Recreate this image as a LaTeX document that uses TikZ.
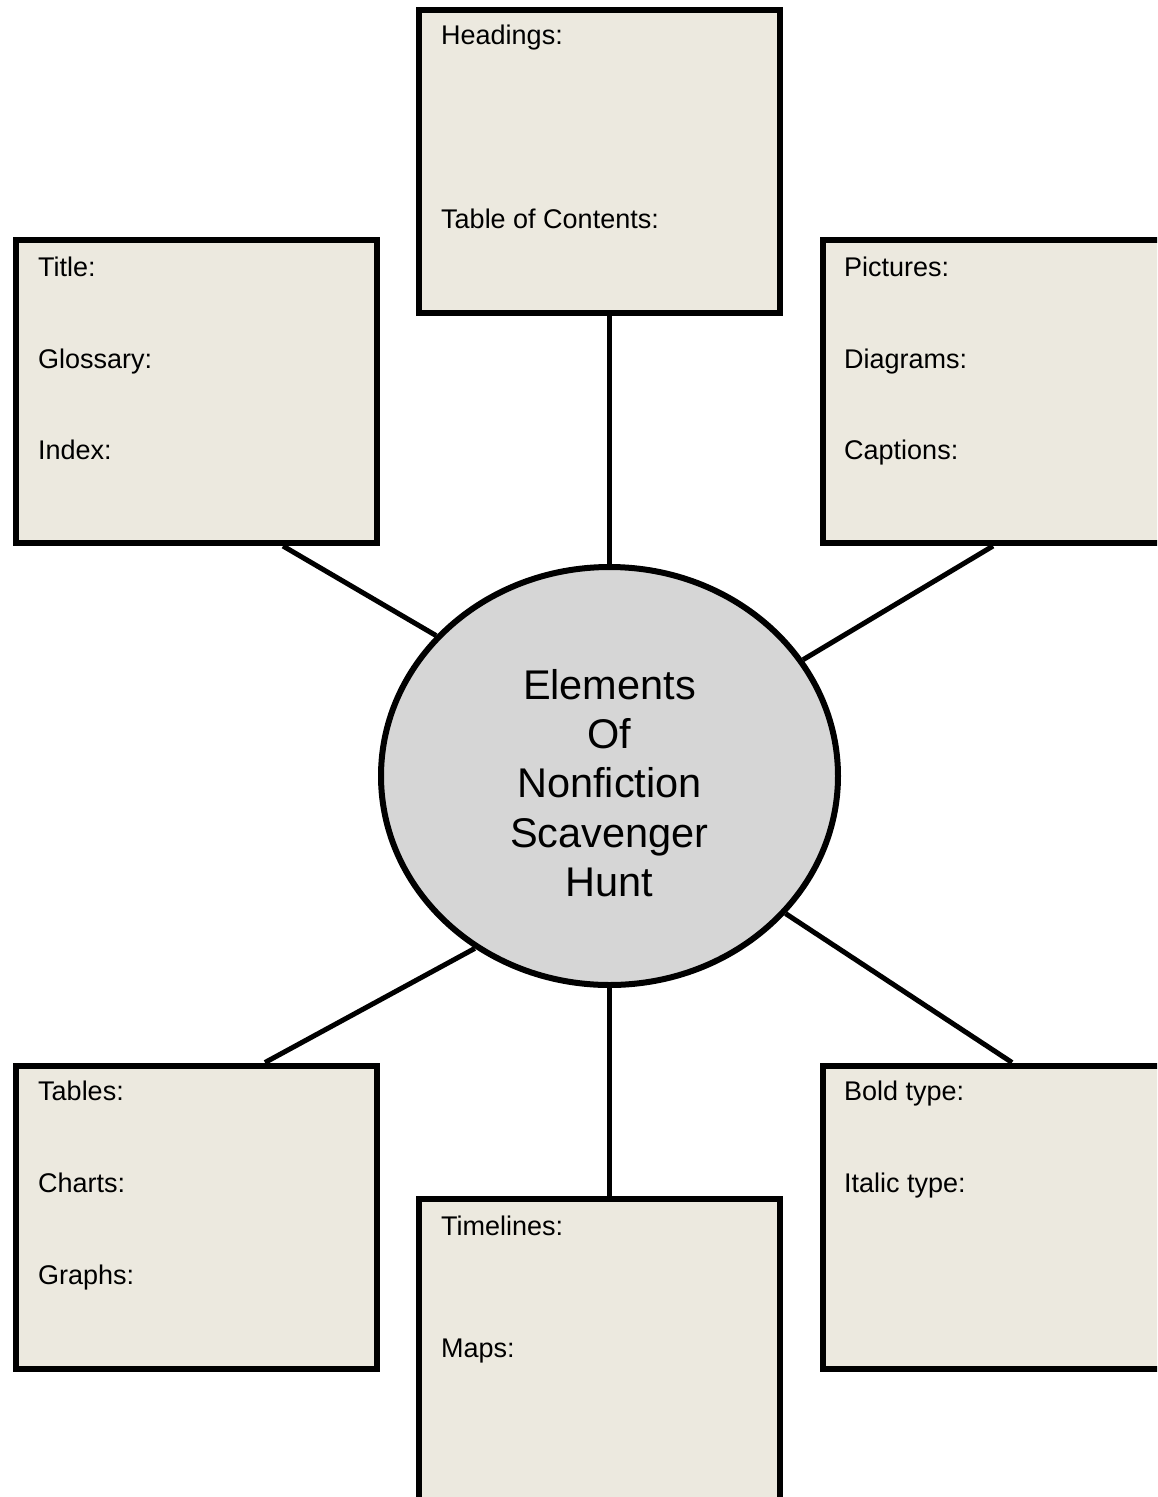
\documentclass[tikz,border=0pt]{standalone}
\usepackage{fontspec}
\setmainfont{Liberation Sans}
\usetikzlibrary{shapes.geometric}

\definecolor{boxfill}{RGB}{236,233,223}
\definecolor{hubfill}{RGB}{214,214,214}

\tikzset{
  topicbox/.style={draw=black, line width=6pt, fill=boxfill, minimum width=361pt, minimum height=303pt, inner sep=0pt},
  hub/.style={ellipse, draw=black, line width=6pt, fill=hubfill, minimum width=457pt, minimum height=418pt, inner sep=0pt},
  hubtext/.style={align=center, inner sep=0pt, font=\fontsize{41.5}{49.3}\selectfont},
  spoke/.style={line width=5pt},
  entry/.style={anchor=base west, inner sep=0pt, font=\fontsize{27}{31}\selectfont}
}

\begin{document}
\begin{tikzpicture}[x=1pt,y=-1pt]
\useasboundingbox (0,0) rectangle (1157,1497);
\clip (0,0) rectangle (1157,1497);
\node[hub] (hub) at (609.5,776) {};
\node[hubtext] (hubtitle) at ([yshift=-7pt]hub.center) {Elements\\Of\\Nonfiction\\Scavenger\\Hunt};
\node[topicbox] (headbox) at (599.5,161) {};
\node[topicbox] (titlebox) at (196.5,391.5) {};
\node[topicbox] (picbox) at (1003.5,391.5) {};
\node[topicbox] (tablebox) at (196.5,1217) {};
\node[topicbox] (boldbox) at (1003.5,1217) {};
\node[topicbox] (timebox) at (599.5,1350.5) {};
\node[entry] (headings) at ([xshift=25pt,yshift=-38pt]headbox.north west) {Headings:};
\node[entry] (contents) at ([xshift=25pt,yshift=-222pt]headbox.north west) {Table of Contents:};
\node[entry] (title) at ([xshift=25pt,yshift=-39pt]titlebox.north west) {Title:};
\node[entry] (glossary) at ([xshift=25pt,yshift=-131pt]titlebox.north west) {Glossary:};
\node[entry] (index) at ([xshift=25pt,yshift=-222pt]titlebox.north west) {Index:};
\node[entry] (pictures) at ([xshift=24pt,yshift=-39pt]picbox.north west) {Pictures:};
\node[entry] (diagrams) at ([xshift=24pt,yshift=-131pt]picbox.north west) {Diagrams:};
\node[entry] (captions) at ([xshift=24pt,yshift=-222pt]picbox.north west) {Captions:};
\node[entry] (tables) at ([xshift=25pt,yshift=-38pt]tablebox.north west) {Tables:};
\node[entry] (charts) at ([xshift=25pt,yshift=-130pt]tablebox.north west) {Charts:};
\node[entry] (graphs) at ([xshift=25pt,yshift=-222pt]tablebox.north west) {Graphs:};
\node[entry] (bold) at ([xshift=24pt,yshift=-38pt]boldbox.north west) {Bold type:};
\node[entry] (italic) at ([xshift=24pt,yshift=-130pt]boldbox.north west) {Italic type:};
\node[entry] (timelines) at ([xshift=25pt,yshift=-39pt]timebox.north west) {Timelines:};
\node[entry] (maps) at ([xshift=25pt,yshift=-161pt]timebox.north west) {Maps:};
\draw[spoke] (hub.north) -- (hub.north |- headbox.south);
\draw[spoke] (hub.south) -- (hub.south |- timebox.north);
\draw[spoke] ([xshift=86.5pt]titlebox.south) -- (hub.141.9);
\draw[spoke] ([xshift=-10.5pt]picbox.south) -- (hub.31);
\draw[spoke] ([xshift=68.5pt]tablebox.north) -- (hub.232.2);
\draw[spoke] ([xshift=8.5pt]boldbox.north) -- (hub.322.6);
\end{tikzpicture}
\end{document}
